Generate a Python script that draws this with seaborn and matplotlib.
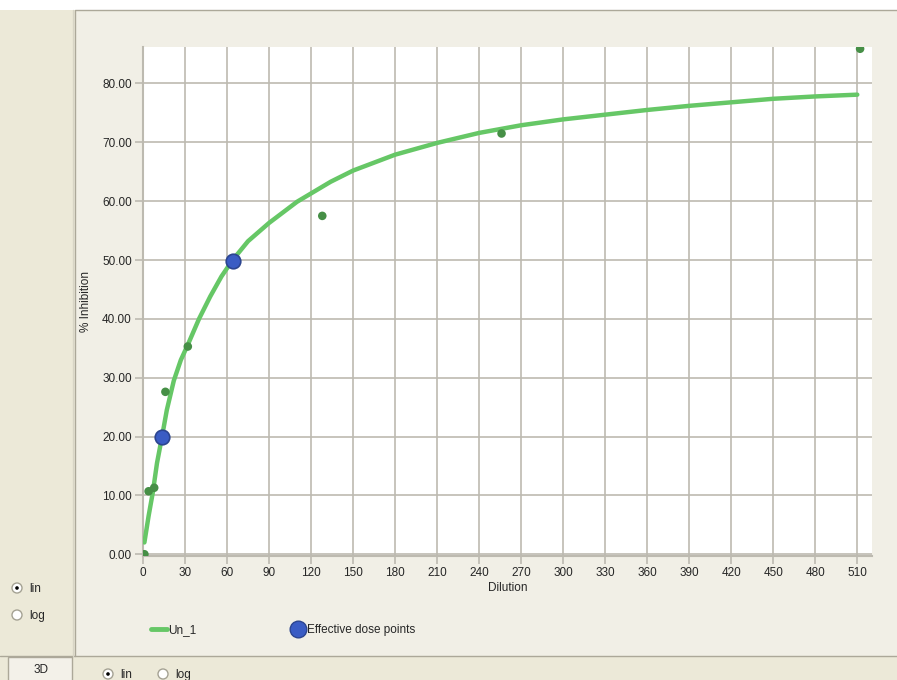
import numpy as np
import pandas as pd
import matplotlib
matplotlib.use("Agg")
import matplotlib.pyplot as plt
from matplotlib.patches import Rectangle, Circle
from matplotlib.lines import Line2D
import seaborn as sns

# Measured data (dilution vs % inhibition)
dilution = [1, 4, 8, 16, 32, 64, 128, 256, 512]
inhibition = [0.0, 10.7, 11.3, 27.6, 35.3, 50.3, 57.5, 71.5, 85.9]

# Fitted curve "Un_1"
curve_x = [1, 4, 7, 10, 13.6, 17, 22, 27, 32, 40, 48, 56, 64, 75, 90, 110, 134,
           150, 180, 210, 240, 270, 300, 330, 360, 390, 420, 450, 480, 510]
curve_y = [2.0, 6.5, 10.5, 15.5, 20.0, 24.5, 29.5, 33.0, 35.6, 40.0, 43.8, 47.2,
           50.0, 53.2, 56.3, 59.9, 63.3, 65.2, 67.9, 69.9, 71.6, 72.9, 73.9,
           74.7, 75.5, 76.2, 76.8, 77.4, 77.8, 78.1]

# Effective dose points (ED20, ED50)
ed_x = [13.6, 64.0]
ed_y = [20.0, 49.9]

x_ticks = list(range(0, 511, 30))
y_ticks = [0, 10, 20, 30, 40, 50, 60, 70, 80]

W, H = 897, 680
sns.set_style("white")
plt.rcParams["font.family"] = ["Liberation Sans", "DejaVu Sans"]

fig = plt.figure(figsize=(W / 100, H / 100), dpi=100)
fig.patch.set_facecolor("#ECE9D8")

# background "window" drawn in pixel coordinates
bg = fig.add_axes([0, 0, 1, 1], zorder=0)
bg.set_xlim(0, W)
bg.set_ylim(H, 0)
bg.axis("off")
bg.add_patch(Rectangle((0, 0), W, 10, color="white", lw=0))
bg.add_patch(Rectangle((75, 10), W - 75, 646, facecolor="#F1EFE6", edgecolor="none"))
bg.plot([75, 75, W], [656, 10, 10], color="#ACA899", lw=1)
bg.plot([0, W], [656, 656], color="#ACA899", lw=1)
bg.plot([73, 73], [10, 656], color="#D8D5C6", lw=1)
bg.add_patch(Rectangle((8, 657), 64, 30, facecolor="#F3F1E9", edgecolor="#ACA899", lw=1))
bg.text(41, 670, "3D", ha="center", va="center", fontsize=8.5)

def radio(x, y, label, on):
    bg.add_patch(Circle((x, y), 5, facecolor="white", edgecolor="#A5A294", lw=1))
    if on:
        bg.add_patch(Circle((x, y), 1.8, facecolor="black", edgecolor="none"))
    bg.text(x + 12, y + 1, label, ha="left", va="center", fontsize=8.5)

radio(17, 588, "lin", True)
radio(17, 615, "log", False)
radio(108, 674, "lin", True)
radio(163, 674, "log", False)

# main chart
ax = fig.add_axes([143 / W, 1 - 556 / H, (872 - 143) / W, (556 - 47) / H], zorder=1)
ax.set_facecolor("white")

sns.lineplot(x=curve_x, y=curve_y, ax=ax, color="#66C766", lw=3.2,
             label="Un_1", zorder=3)
sns.scatterplot(x=dilution, y=inhibition, ax=ax, color="#468F46", s=38,
                edgecolor="none", zorder=4, legend=False)
sns.scatterplot(x=ed_x, y=ed_y, ax=ax, color="#3A5CC4", s=110,
                edgecolor="#2C4590", linewidth=1.2, zorder=5,
                label="Effective dose points")

ax.set_xlim(0, 520.5)
ax.set_ylim(-0.3, 86.2)
ax.set_xticks(x_ticks)
ax.set_yticks(y_ticks)
ax.set_xticklabels([str(t) for t in x_ticks])
ax.set_yticklabels([f"{t:.2f}" for t in y_ticks])
ax.grid(True, color="#BDBAB0", lw=1.2)
ax.set_axisbelow(True)
ax.tick_params(axis="both", direction="out", length=6, width=1.2,
               color="#BDBAB0", labelsize=8.5, pad=2, left=True, bottom=True)
for side in ["top", "right"]:
    ax.spines[side].set_visible(False)
for side in ["left", "bottom"]:
    ax.spines[side].set_color("#BDBAB0")
    ax.spines[side].set_linewidth(1.5)

ax.set_xlabel("Dilution", fontsize=8.5, labelpad=2)
ax.set_ylabel("% Inhibition", fontsize=8.5, labelpad=7)

handles = [Line2D([], [], color="#66C766", lw=3.5),
           Line2D([], [], marker="o", ls="", markersize=12,
                  markerfacecolor="#3A5CC4", markeredgecolor="#2C4590")]
ax.legend(handles, ["Un_1", "Effective dose points"], ncol=2, frameon=False,
          loc="center left", bbox_to_anchor=(-3 / 729, -0.145), fontsize=8.5,
          handlelength=1.4, handletextpad=0.1, columnspacing=7.85)

fig.savefig("out.png", dpi=100, facecolor=fig.get_facecolor())
